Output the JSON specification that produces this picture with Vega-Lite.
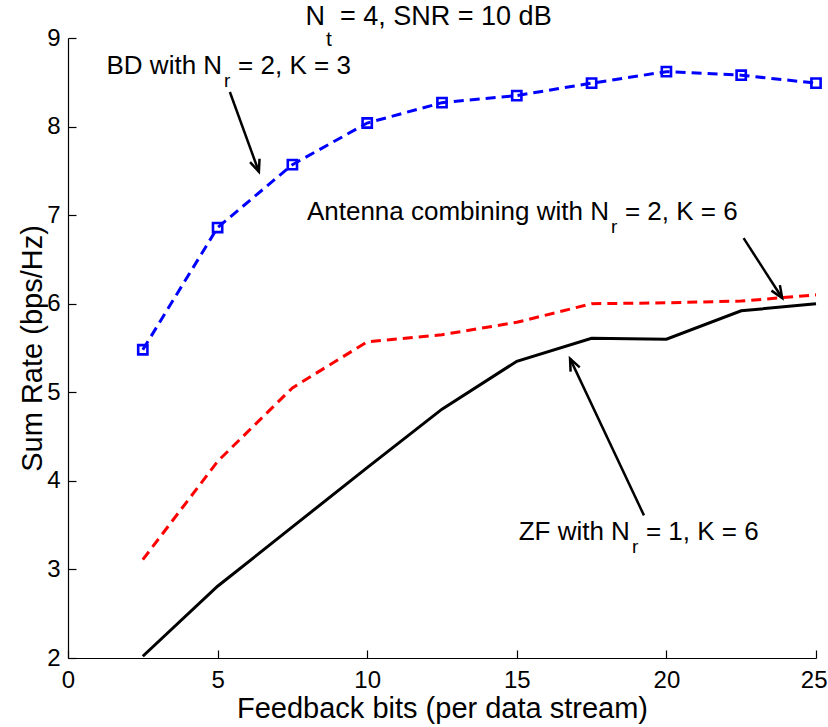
{
  "$schema": "https://vega.github.io/schema/vega-lite/v6.json",
  "width": 748,
  "height": 620,
  "autosize": {"type": "none"},
  "padding": {"left": 68, "top": 38, "right": 12, "bottom": 69},
  "background": "white",
  "config": {
    "font": "Liberation Sans",
    "view": {"stroke": null},
    "axis": {
      "grid": false,
      "domainColor": "black",
      "domainWidth": 1.2,
      "tickColor": "black",
      "tickWidth": 1.2,
      "tickSize": -8,
      "labelFont": "Liberation Sans",
      "labelFontSize": 24,
      "labelColor": "black",
      "labelFlush": false,
      "labelOverlap": false,
      "titleFont": "Liberation Sans",
      "titleFontSize": 29,
      "titleFontWeight": "normal",
      "titleColor": "black"
    }
  },
  "datasets": {
    "curves": [
      {"series": "BD", "bits": 2.5, "rate": 5.48},
      {"series": "BD", "bits": 5, "rate": 6.86},
      {"series": "BD", "bits": 7.5, "rate": 7.57},
      {"series": "BD", "bits": 10, "rate": 8.04},
      {"series": "BD", "bits": 12.5, "rate": 8.27},
      {"series": "BD", "bits": 15, "rate": 8.35},
      {"series": "BD", "bits": 17.5, "rate": 8.49},
      {"series": "BD", "bits": 20, "rate": 8.62},
      {"series": "BD", "bits": 22.5, "rate": 8.58},
      {"series": "BD", "bits": 25, "rate": 8.49},
      {"series": "AC", "bits": 2.5, "rate": 3.11},
      {"series": "AC", "bits": 5, "rate": 4.22},
      {"series": "AC", "bits": 7.5, "rate": 5.05},
      {"series": "AC", "bits": 10, "rate": 5.57},
      {"series": "AC", "bits": 12.5, "rate": 5.65},
      {"series": "AC", "bits": 15, "rate": 5.79},
      {"series": "AC", "bits": 17.5, "rate": 6.0},
      {"series": "AC", "bits": 20, "rate": 6.01},
      {"series": "AC", "bits": 22.5, "rate": 6.03},
      {"series": "AC", "bits": 25, "rate": 6.1},
      {"series": "ZF", "bits": 2.5, "rate": 2.02},
      {"series": "ZF", "bits": 5, "rate": 2.81},
      {"series": "ZF", "bits": 7.5, "rate": 3.48},
      {"series": "ZF", "bits": 10, "rate": 4.15},
      {"series": "ZF", "bits": 12.5, "rate": 4.81},
      {"series": "ZF", "bits": 15, "rate": 5.35},
      {"series": "ZF", "bits": 17.5, "rate": 5.61},
      {"series": "ZF", "bits": 20, "rate": 5.6},
      {"series": "ZF", "bits": 22.5, "rate": 5.92},
      {"series": "ZF", "bits": 25, "rate": 6.0}
    ],
    "arrows": [
      {"bits": 5.41, "rate": 8.39, "bits2": 6.38, "rate2": 7.49},
      {"bits": 22.58, "rate": 6.74, "bits2": 23.87, "rate2": 6.065},
      {"bits": 19.25, "rate": 3.61, "bits2": 16.78, "rate2": 5.38}
    ],
    "labels": [
      {"bits": 5.15, "rate": 8.594, "pre": "BD with N", "sub": "r", "post": "= 2, K = 3"},
      {"bits": 18.08, "rate": 6.945, "pre": "Antenna combining with N", "sub": "r", "post": "= 2, K = 6"},
      {"bits": 18.78, "rate": 3.332, "pre": "ZF with N", "sub": "r", "post": "= 1, K = 6"}
    ],
    "heading": [
      {"bits": 8.59, "rate": 9.147, "pre": "N", "sub": "t", "post": "= 4, SNR = 10 dB"}
    ]
  },
  "encoding": {
    "x": {
      "field": "bits",
      "type": "quantitative",
      "scale": {"domain": [0, 25], "nice": false, "zero": false},
      "axis": {
        "title": "Feedback bits (per data stream)",
        "values": [0, 5, 10, 15, 20, 25],
        "format": "d",
        "labelPadding": 18,
        "labelAlign": {"condition": {"test": "datum.value === 25", "value": "right"}, "value": "center"},
        "labelOffset": {"condition": {"test": "datum.value === 25", "value": 11}, "value": 0},
        "titlePadding": 2
      }
    },
    "y": {
      "field": "rate",
      "type": "quantitative",
      "scale": {"domain": [2, 9], "nice": false, "zero": false},
      "axis": {
        "title": "Sum Rate (bps/Hz)",
        "values": [2, 3, 4, 5, 6, 7, 8, 9],
        "format": "d",
        "labelPadding": 16,
        "titlePadding": -1
      }
    }
  },
  "layer": [
    {
      "data": {"name": "curves"},
      "transform": [{"filter": "datum.series === 'ZF'"}],
      "mark": {"type": "line", "color": "black", "strokeWidth": 3, "clip": false}
    },
    {
      "data": {"name": "curves"},
      "transform": [{"filter": "datum.series === 'AC'"}],
      "mark": {"type": "line", "color": "#ff0000", "strokeWidth": 3, "strokeDash": [10, 6], "clip": false}
    },
    {
      "data": {"name": "curves"},
      "transform": [{"filter": "datum.series === 'BD'"}],
      "mark": {"type": "line", "color": "#0000ff", "strokeWidth": 3, "strokeDash": [10, 6], "clip": false}
    },
    {
      "data": {"name": "curves"},
      "transform": [{"filter": "datum.series === 'BD'"}],
      "mark": {"type": "point", "shape": "square", "filled": false, "color": "#0000ff", "strokeWidth": 2.6, "size": 85, "opacity": 1}
    },
    {
      "data": {"name": "arrows"},
      "mark": {"type": "rule", "color": "black", "strokeWidth": 2.5},
      "encoding": {
        "x2": {"field": "bits2"},
        "y2": {"field": "rate2"}
      }
    },
    {
      "data": {"name": "arrows"},
      "transform": [
        {"calculate": "atan2((datum.bits2 - datum.bits) * 748 / 25, (datum.rate2 - datum.rate) * 620 / 7) * 180 / PI", "as": "heading"}
      ],
      "mark": {
        "type": "point",
        "shape": "M-0.42,1L0,0L0.42,1",
        "filled": false,
        "color": "black",
        "strokeWidth": 2.5,
        "size": 576,
        "opacity": 1,
        "strokeJoin": "miter"
      },
      "encoding": {
        "x": {"field": "bits2", "type": "quantitative"},
        "y": {"field": "rate2", "type": "quantitative"},
        "angle": {"field": "heading", "type": "quantitative", "scale": null}
      }
    },
    {
      "data": {"name": "labels"},
      "mark": {"type": "text", "align": "right", "baseline": "alphabetic", "fontSize": 26, "color": "black", "font": "Liberation Sans"},
      "encoding": {"text": {"field": "pre"}}
    },
    {
      "data": {"name": "labels"},
      "mark": {"type": "text", "align": "left", "baseline": "alphabetic", "fontSize": 19, "dx": 2, "dy": 13, "color": "black", "font": "Liberation Sans"},
      "encoding": {"text": {"field": "sub"}}
    },
    {
      "data": {"name": "labels"},
      "mark": {"type": "text", "align": "left", "baseline": "alphabetic", "fontSize": 26, "dx": 16, "color": "black", "font": "Liberation Sans"},
      "encoding": {"text": {"field": "post"}}
    },
    {
      "data": {"name": "heading"},
      "mark": {"type": "text", "align": "right", "baseline": "alphabetic", "fontSize": 27, "color": "black", "font": "Liberation Sans", "clip": false},
      "encoding": {"text": {"field": "pre"}}
    },
    {
      "data": {"name": "heading"},
      "mark": {"type": "text", "align": "left", "baseline": "alphabetic", "fontSize": 21, "dx": 1, "dy": 21, "color": "black", "font": "Liberation Sans"},
      "encoding": {"text": {"field": "sub"}}
    },
    {
      "data": {"name": "heading"},
      "mark": {"type": "text", "align": "left", "baseline": "alphabetic", "fontSize": 27, "dx": 15, "color": "black", "font": "Liberation Sans"},
      "encoding": {"text": {"field": "post"}}
    }
  ]
}
